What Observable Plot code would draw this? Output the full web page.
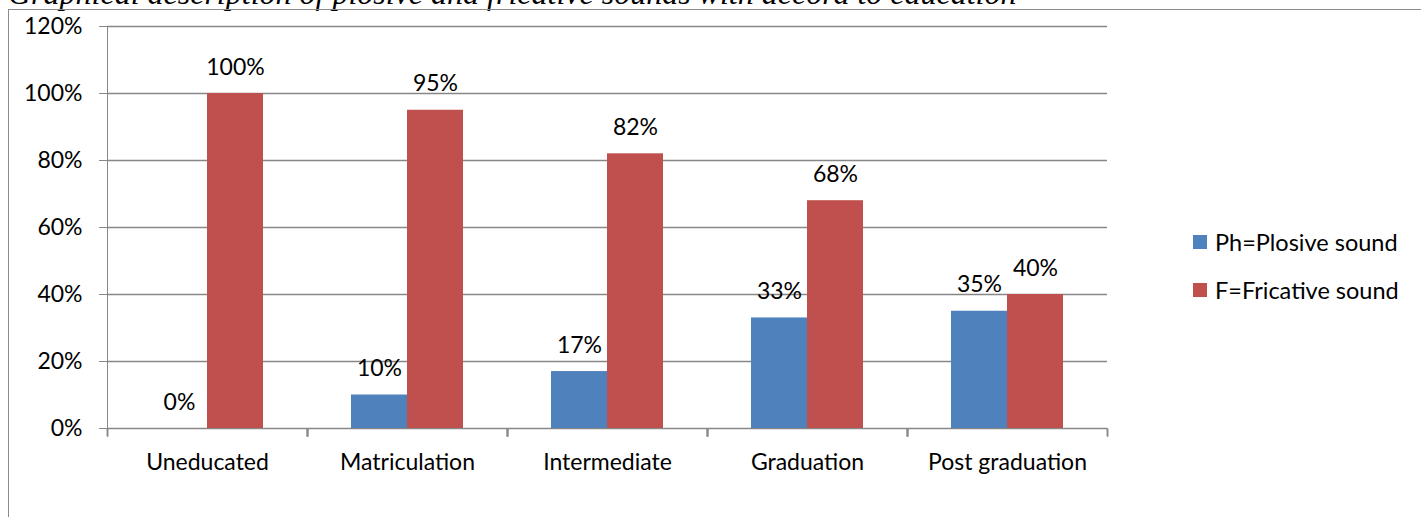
<!DOCTYPE html>
<html>
<head>
<meta charset="utf-8">
<script src="https://cdn.jsdelivr.net/npm/d3@7"></script>
<script src="https://cdn.jsdelivr.net/npm/@observablehq/plot@0.6"></script>
<style>
  html, body { margin: 0; padding: 0; background: #fff; overflow: hidden; }
  #wrap { position: relative; width: 1421px; height: 517px; overflow: hidden; }
  #title { position: absolute; left: 8px; top: -25px; font-family: "Liberation Serif", serif; font-style: italic; font-size: 32px; line-height: 37px; white-space: nowrap; color: #000; }
  #box { position: absolute; left: 8px; top: 9px; width: 1440px; height: 540px; border: 1.5px solid #8c8c8c; box-sizing: border-box; }
  #chart { position: absolute; left: 0; top: 0; }
  #chart svg text { fill: #000; }
  #legend { position: absolute; left: 1193px; top: 229px; }
  #legend, #legend * { font-family: Lato, sans-serif !important; font-size: 23.5px !important; color: #000; }
  #legend > div { margin: 0 !important; }
  #legend > div > div { line-height: 26px; margin: 0 0 22px 0; padding: 0; }
  #legend svg { margin-right: 8px !important; }
</style>
</head>
<body>
<div id="wrap">
  <div id="title">Graphical description of plosive and fricative sounds with accord to education</div>
  <div id="box"></div>
  <div id="chart"></div>
  <div id="legend"></div>
</div>
<script>
// Education levels and the share of each sound type per level
const categories = ["Uneducated", "Matriculation", "Intermediate", "Graduation", "Post graduation"];
const seriesNames = ["Ph=Plosive sound", "F=Fricative sound"];
const plosive = [0.00, 0.10, 0.17, 0.33, 0.35];
const fricative = [1.00, 0.95, 0.82, 0.68, 0.40];
const yTicks = [0, 0.2, 0.4, 0.6, 0.8, 1.0, 1.2];
const seriesColors = ["#4F81BD", "#C0504D"];

// Long-format rows for the grouped bars
const rows = categories.flatMap((category, i) => [
  {category, series: seriesNames[0], value: plosive[i]},
  {category, series: seriesNames[1], value: fricative[i]}
]);

const gray = "#878787";
const pct = d3.format(".0%");
// short vertical stroke used for the category divider ticks under the baseline
const dividerTick = {draw(ctx) { ctx.moveTo(0, 0); ctx.lineTo(0, 8); }};

const chart = Plot.plot({
  width: 1421,
  height: 517,
  marginLeft: 105,
  marginRight: 313,
  marginTop: 26,
  marginBottom: 89,
  style: {fontFamily: "Lato, sans-serif", fontSize: "23px", color: gray, background: "transparent"},
  facet: {data: rows, x: "category"},
  fx: {domain: categories, padding: 0, label: null, axis: "bottom", tickSize: 0, tickPadding: 25},
  x: {domain: seriesNames, paddingInner: 0, paddingOuter: 0.76, axis: null},
  y: {domain: [0, 1.2], ticks: yTicks, tickFormat: pct, tickSize: 8, tickPadding: 17, label: null, line: true},
  color: {domain: seriesNames, range: seriesColors},
  marks: [
    Plot.ruleY(yTicks, {stroke: gray, strokeWidth: 1.5}),
    Plot.barY(rows, {x: "series", y: "value", fill: "series"}),
    Plot.text(rows, {x: "series", y: "value", text: d => pct(d.value), lineAnchor: "bottom", dy: -19, fill: "#000", fontSize: 23}),
    Plot.dot(rows, {frameAnchor: "bottom-left", symbol: dividerTick, stroke: gray, strokeWidth: 1.5}),
    Plot.dot(rows, {frameAnchor: "bottom-right", symbol: dividerTick, stroke: gray, strokeWidth: 1.5})
  ]
});
document.getElementById("chart").appendChild(chart);

const legend = Plot.legend({
  color: {domain: seriesNames, range: seriesColors},
  legend: "swatches",
  columns: 1,
  swatchSize: 14
});
document.getElementById("legend").appendChild(legend);
</script>
</body>
</html>
